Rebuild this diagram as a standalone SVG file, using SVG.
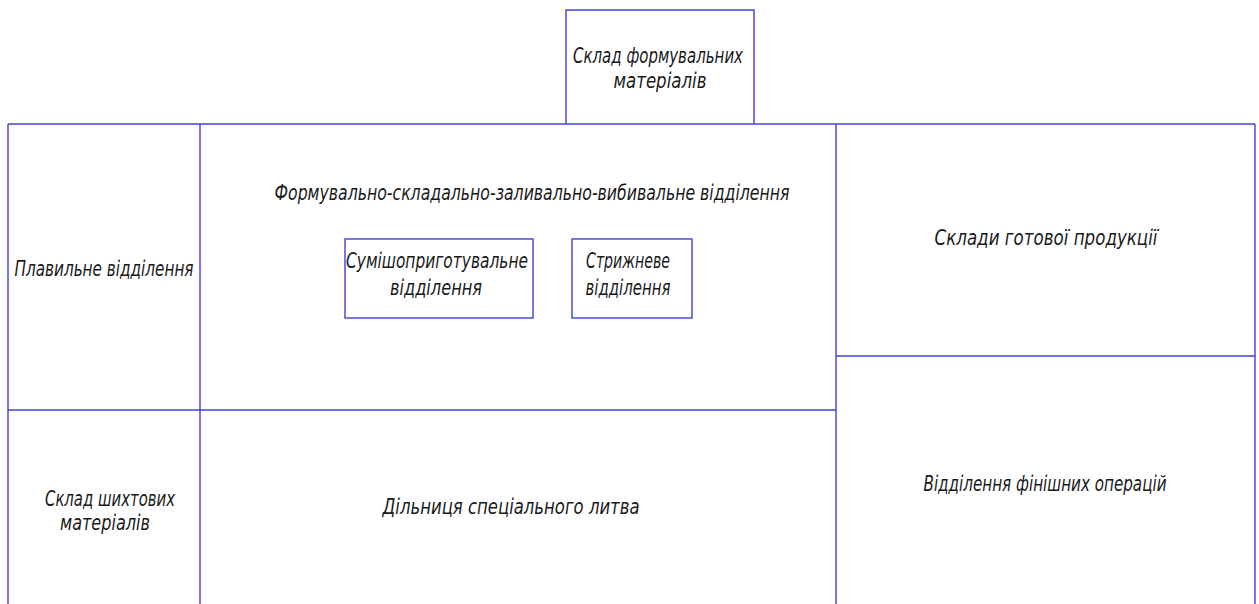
<svg xmlns="http://www.w3.org/2000/svg" width="1259" height="604" viewBox="0 0 1259 604">
<style>
.b{fill:none;stroke:#4040d4;stroke-width:1.4}
.t{font-family:"Liberation Sans Narrow","DejaVu Sans Condensed","Liberation Sans",sans-serif;font-style:italic;font-size:20.5px;fill:#1a1a1a;text-anchor:middle}
</style>
<rect width="1259" height="604" fill="#ffffff"/>
<g id="connectors">
<line class="b" x1="8" y1="124" x2="1255" y2="124"/>
<line class="b" x1="8" y1="124" x2="8" y2="604"/>
<line class="b" x1="200" y1="124" x2="200" y2="604"/>
<line class="b" x1="836" y1="124" x2="836" y2="604"/>
<line class="b" x1="1255" y1="124" x2="1255" y2="604"/>
<line class="b" x1="8" y1="410" x2="836" y2="410"/>
<line class="b" x1="836" y1="356" x2="1255" y2="356"/>
</g>
<g id="n-top">
<polyline class="b" points="566,124 566,10 754,10 754,124"/>
<text class="t" x="658" y="63" textLength="170" lengthAdjust="spacingAndGlyphs">Склад формувальних</text>
<text class="t" x="660" y="88" textLength="93" lengthAdjust="spacingAndGlyphs">матеріалів</text>
</g>
<g id="n-melt">
<text class="t" x="104" y="276" textLength="179" lengthAdjust="spacingAndGlyphs">Плавильне відділення</text>
</g>
<g id="n-form">
<text class="t" x="532" y="200" textLength="515" lengthAdjust="spacingAndGlyphs">Формувально-складально-заливально-вибивальне відділення</text>
</g>
<g id="n-mix">
<rect class="b" x="345" y="239" width="188" height="79"/>
<text class="t" x="437" y="268" textLength="182" lengthAdjust="spacingAndGlyphs">Сумішоприготувальне</text>
<text class="t" x="436" y="295" textLength="92" lengthAdjust="spacingAndGlyphs">відділення</text>
</g>
<g id="n-core">
<rect class="b" x="572" y="239" width="120" height="79"/>
<text class="t" x="628" y="268" textLength="84" lengthAdjust="spacingAndGlyphs">Стрижневе</text>
<text class="t" x="628" y="295" textLength="85" lengthAdjust="spacingAndGlyphs">відділення</text>
</g>
<g id="n-store">
<text class="t" x="1046" y="245" textLength="223" lengthAdjust="spacingAndGlyphs">Склади готової продукції</text>
</g>
<g id="n-finish">
<text class="t" x="1045" y="491" textLength="243" lengthAdjust="spacingAndGlyphs">Відділення фінішних операцій</text>
</g>
<g id="n-charge">
<text class="t" x="110" y="506" textLength="130" lengthAdjust="spacingAndGlyphs">Склад шихтових</text>
<text class="t" x="105" y="530" textLength="90" lengthAdjust="spacingAndGlyphs">матеріалів</text>
</g>
<g id="n-special">
<text class="t" x="511" y="514" textLength="257" lengthAdjust="spacingAndGlyphs">Дільниця спеціального литва</text>
</g>
</svg>
